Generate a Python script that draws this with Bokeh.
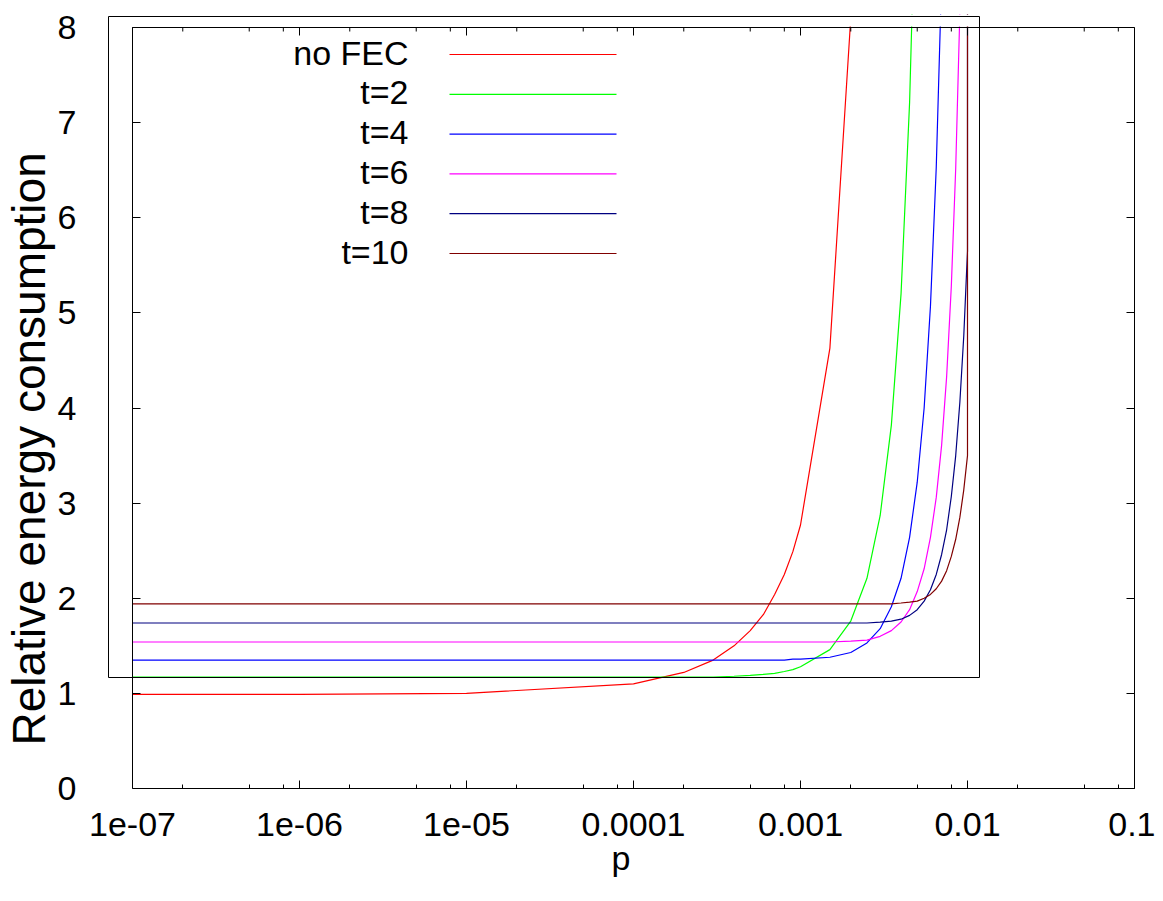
from bokeh.plotting import figure
from bokeh.models import (FixedTicker, LogAxis, LinearAxis, Label, Title,
                          BoxAnnotation, CustomJSTickFormatter)
from bokeh.embed import file_html
from bokeh.resources import INLINE

# ---------------- data ----------------
P = [1e-7, 1e-6, 1e-5,
     1e-4, 2e-4, 3e-4, 4e-4, 5e-4, 6e-4, 7e-4, 8e-4, 9e-4,
     1.0e-3, 1.5e-3, 2.0e-3, 2.5e-3, 3.0e-3, 3.5e-3, 4.0e-3, 4.5e-3, 5.0e-3,
     5.5e-3, 6.0e-3, 6.5e-3, 7.0e-3, 7.5e-3, 8.0e-3, 8.5e-3, 9.0e-3, 9.5e-3,
     1.0e-2, 1.0e-2]

NO_FEC = [0.99, 0.99, 1.00, 1.10, 1.22, 1.35, 1.50, 1.66, 1.83, 2.04, 2.25, 2.49,
          2.77, 4.63, 8.10]
T2 = [1.17, 1.17, 1.17, 1.17, 1.17, 1.17, 1.18, 1.19, 1.20, 1.21, 1.23, 1.25,
      1.28, 1.46, 1.76, 2.21, 2.87, 3.82, 5.20, 7.21, 10.15]
T4 = [1.35, 1.35, 1.35, 1.35, 1.35, 1.35, 1.35, 1.35, 1.35, 1.35, 1.35, 1.36,
      1.36, 1.38, 1.43, 1.53, 1.68, 1.91, 2.21, 2.64, 3.22, 4.00, 5.07, 6.53, 8.52]
T6 = [1.54, 1.54, 1.54, 1.54, 1.54, 1.54, 1.54, 1.54, 1.54, 1.54, 1.54, 1.54,
      1.54, 1.54, 1.55, 1.56, 1.60, 1.66, 1.75, 1.88, 2.07, 2.31, 2.64, 3.06,
      3.61, 4.33, 5.28, 6.52, 8.16]
T8 = [1.74, 1.74, 1.74, 1.74, 1.74, 1.74, 1.74, 1.74, 1.74, 1.74, 1.74, 1.74,
      1.74, 1.74, 1.74, 1.74, 1.75, 1.76, 1.78, 1.82, 1.88, 1.97, 2.09, 2.25,
      2.46, 2.72, 3.07, 3.50, 4.06, 4.76, 5.65, 9.00]
T10 = [1.94, 1.94, 1.94, 1.94, 1.94, 1.94, 1.94, 1.94, 1.94, 1.94, 1.94, 1.94,
       1.94, 1.94, 1.94, 1.94, 1.94, 1.94, 1.95, 1.96, 1.97, 2.00, 2.04, 2.10,
       2.18, 2.29, 2.44, 2.62, 2.85, 3.14, 3.50, 9.00]

SERIES = [NO_FEC, T2, T4, T6, T8, T10]
LABELS = ["no FEC", "t=2", "t=4", "t=6", "t=8", "t=10"]
COLORS = ["#ff0000", "#00ff00", "#0000ff", "#ff00ff", "#000080", "#800000"]

XTICKS = [1e-7, 1e-6, 1e-5, 1e-4, 1e-3, 1e-2, 1e-1]
XTICK_LABELS = ["1e-07", "1e-06", "1e-05", "0.0001", "0.001", "0.01", "0.1"]
YTICKS = [0, 1, 2, 3, 4, 5, 6, 7, 8]
X_LABEL = "p"
Y_LABEL = "Relative energy consumption"

# ---------------- layout ----------------
FONT = "Liberation Sans"
TICK_SIZE = "34px"
W, H = 1155, 885
AL, AR, AT, AB = 132, 1134, 27, 788          # axis box (x 1e-7..0.1, y 0..8) in pixels
KB_L, KB_R, KB_T, KB_B = 108, 979, 16, 677    # gnuplot key box edges in pixels
CL, CT = 107, 14                              # canvas frame reaches a bit further out
Y_PER_PX = (YTICKS[-1] - YTICKS[0]) / (AB - AT)


def xd(px):
    return 10 ** (-7 + (px - AL) / (AR - AL) * 6)


def yd(py):
    return (AB - py) * Y_PER_PX


p = figure(width=W, height=H, x_axis_type="log",
           x_axis_location=None, y_axis_location=None,
           x_range=(xd(CL), XTICKS[-1]), y_range=(YTICKS[0], yd(CT)),
           output_backend="svg", toolbar_location=None,
           min_border_left=CL, min_border_right=W - AR,
           min_border_top=CT, min_border_bottom=H - AB)
p.background_fill_color = "white"
p.border_fill_color = "white"
p.outline_line_color = None
p.grid.visible = False

xminor = [m * 10.0 ** e for e in range(-7, -1) for m in (2, 5, 8)]
xt = FixedTicker(ticks=XTICKS, minor_ticks=xminor)
yt = FixedTicker(ticks=YTICKS, minor_ticks=[])
blank = CustomJSTickFormatter(code="return ''")
XB = (XTICKS[0], XTICKS[-1])
YB = (YTICKS[0], YTICKS[-1])
MAJOR_IN, MINOR_IN = 8, 4


def style(ax, size="1px"):
    ax.axis_line_color = "black"
    ax.major_tick_line_color = "black"
    ax.minor_tick_line_color = "black"
    ax.major_tick_in = MAJOR_IN
    ax.major_tick_out = 0
    ax.minor_tick_in = MINOR_IN
    ax.minor_tick_out = 0
    ax.major_label_text_font = FONT
    ax.major_label_text_color = "black"
    ax.major_label_text_font_size = size
    return ax


# bottom axis: line, ticks, labels, title
xa = style(LogAxis(ticker=xt, bounds=XB), TICK_SIZE)
xa.major_label_overrides = dict(zip(XTICKS, XTICK_LABELS))
xa.major_label_standoff = 24
xa.axis_label = X_LABEL
xa.axis_label_text_font = FONT
xa.axis_label_text_font_size = TICK_SIZE
xa.axis_label_text_font_style = "normal"
xa.axis_label_text_color = "black"
xa.axis_label_standoff = 0
p.add_layout(xa, "below")

# left axis line + ticks at x = 1e-7
yl = style(LinearAxis(ticker=yt, formatter=blank, bounds=YB,
                      fixed_location=XTICKS[0]))
yl.major_label_standoff = 0
p.add_layout(yl, "left")

# left tick labels (outside the canvas frame)
yl_labels = LinearAxis(ticker=yt, axis_line_color=None,
                       major_tick_line_color=None, minor_tick_line_color=None,
                       major_label_standoff=25,
                       major_label_text_font=FONT,
                       major_label_text_font_size=TICK_SIZE,
                       major_label_text_color="black")
p.add_layout(yl_labels, "left")

p.add_layout(Title(text=Y_LABEL, align="left", offset=43, standoff=0,
                   text_font=FONT, text_font_size="46px",
                   text_font_style="normal", text_color="black"), "left")

# right axis: line + ticks
right = style(LinearAxis(ticker=yt, formatter=blank, bounds=YB))
right.major_label_standoff = 0
p.add_layout(right, "right")

# ---------------- curves ----------------
for vals, col in zip(SERIES, COLORS):
    p.line(P[:len(vals)], vals, line_color=col, line_width=1.2)

# top border of the axis box, with inward ticks (mirrors the bottom axis)
y_top = YTICKS[-1]
p.segment(x0=[XTICKS[0]], y0=[y_top], x1=[XTICKS[-1]], y1=[y_top],
          line_color="black", line_width=1)
p.segment(x0=XTICKS, y0=[y_top] * len(XTICKS), x1=XTICKS,
          y1=[y_top - MAJOR_IN * Y_PER_PX] * len(XTICKS),
          line_color="black", line_width=1)
p.segment(x0=xminor, y0=[y_top] * len(xminor), x1=xminor,
          y1=[y_top - MINOR_IN * Y_PER_PX] * len(xminor),
          line_color="black", line_width=1)

# curves stop at the top of the axis box
p.add_layout(BoxAnnotation(bottom=y_top + Y_PER_PX, fill_color="white",
                           fill_alpha=1, line_color=None))

# ---------------- key: box, text, sample ----------------
p.add_layout(BoxAnnotation(left=xd(KB_L), right=xd(KB_R), top=yd(KB_T),
                           bottom=yd(KB_B), fill_alpha=0, line_color="black",
                           line_alpha=1, line_width=1))

row0, step = 52, 39.8
for i, (lab, col) in enumerate(zip(LABELS, COLORS)):
    p.add_layout(Label(x=xd(408), y=yd(row0 + i * step), text=lab,
                       text_align="right", text_baseline="middle",
                       text_font=FONT, text_font_size=TICK_SIZE,
                       text_color="black"))
    ly = yd(54 + i * step)
    p.segment(x0=[xd(449)], y0=[ly], x1=[xd(616)], y1=[ly],
              line_color=col, line_width=1.2)

open("out.html", "w").write(file_html(p, INLINE))
